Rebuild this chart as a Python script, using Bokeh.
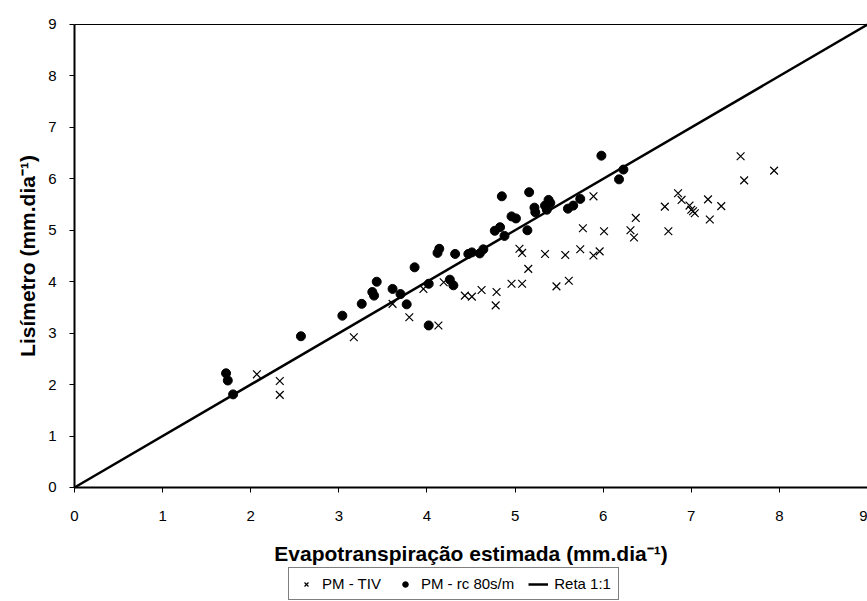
from bokeh.plotting import figure
from bokeh.models import FixedTicker, Legend, LegendItem, Range1d, LinearAxis
from bokeh.embed import file_html
from bokeh.resources import INLINE

# PM - TIV (crosses)
tiv_x = [2.07, 2.33, 2.33, 3.17, 3.61, 3.80, 3.96, 4.13, 4.19, 4.43, 4.51, 4.62, 4.79, 4.78,
         4.96, 5.08, 5.05, 5.08, 5.15, 5.34, 5.47, 5.61, 5.57, 5.74, 5.89, 5.96, 5.77, 5.89,
         6.01, 6.31, 6.35, 6.37, 6.70, 6.74, 6.85, 6.89, 6.98, 7.00, 7.02, 7.04, 7.19, 7.21,
         7.34, 7.56, 7.60, 7.94]
tiv_y = [2.20, 2.07, 1.80, 2.92, 3.57, 3.31, 3.86, 3.15, 3.99, 3.73, 3.71, 3.84, 3.80, 3.54,
         3.96, 3.96, 4.64, 4.56, 4.25, 4.54, 3.91, 4.02, 4.52, 4.63, 4.51, 4.59, 5.04, 5.66,
         4.98, 5.00, 4.86, 5.24, 5.46, 4.98, 5.72, 5.59, 5.48, 5.40, 5.37, 5.33, 5.60, 5.21,
         5.47, 6.44, 5.97, 6.16]

# PM - rc 80s/m (dots)
rc_x = [1.72, 1.74, 1.80, 2.57, 3.04, 3.26, 3.38, 3.40, 3.43, 3.61, 3.70, 3.77, 3.86, 4.02,
        4.02, 4.12, 4.14, 4.26, 4.30, 4.32, 4.47, 4.51, 4.60, 4.64, 4.77, 4.83, 4.88, 4.85,
        4.96, 5.01, 5.14, 5.16, 5.22, 5.23, 5.34, 5.36, 5.38, 5.40, 5.60, 5.66, 5.74, 5.98,
        6.18, 6.23]
rc_y = [2.22, 2.08, 1.81, 2.94, 3.34, 3.57, 3.80, 3.73, 4.00, 3.86, 3.76, 3.56, 4.28, 3.96,
        3.15, 4.56, 4.64, 4.04, 3.93, 4.54, 4.54, 4.57, 4.55, 4.63, 4.99, 5.06, 4.89, 5.66,
        5.27, 5.23, 5.00, 5.74, 5.44, 5.35, 5.48, 5.40, 5.59, 5.53, 5.42, 5.48, 5.61, 6.45,
        5.99, 6.18]

# Reta 1:1
reta_x = [0, 9]
reta_y = [0, 9]

ticks = [0, 1, 2, 3, 4, 5, 6, 7, 8, 9]

FONT = "Liberation Sans"

# the frame fills the whole canvas; axes sit at x=0 / y=0 so titles and legend fit inside
p = figure(frame_width=867, frame_height=601, output_backend="svg", toolbar_location=None,
           x_range=Range1d(-0.8398, 9), y_range=Range1d(-2.216, 9.4665),
           min_border_left=0, min_border_right=0, min_border_top=0, min_border_bottom=0)
p.background_fill_color = "white"
p.border_fill_color = "white"
p.outline_line_color = None
p.xgrid.visible = False
p.ygrid.visible = False

for ax in (p.xaxis[0], p.yaxis[0]):
    ax.ticker = FixedTicker(ticks=ticks)
    ax.bounds = (0, 9)
    ax.fixed_location = 0
    ax.axis_line_color = "black"
    ax.axis_line_width = 2
    ax.major_tick_line_color = "black"
    ax.major_tick_line_width = 1
    ax.major_tick_in = 0
    ax.major_tick_out = 5
    ax.minor_tick_line_color = None
    ax.major_label_text_font = FONT
    ax.major_label_text_font_size = "15px"
    ax.major_label_text_color = "black"
    ax.axis_label_text_font = FONT
    ax.axis_label_text_font_size = "21px"
    ax.axis_label_text_font_style = "bold"
    ax.axis_label_text_color = "black"

p.xaxis[0].axis_label = "Evapotranspiração estimada (mm.dia⁻¹)"
p.yaxis[0].axis_label = "Lisímetro (mm.dia⁻¹)"
p.xaxis[0].major_label_standoff = 19
p.xaxis[0].axis_label_standoff = 17
p.yaxis[0].major_label_standoff = 13
p.yaxis[0].axis_label_standoff = 6

# thin top border of the plot area
top = LinearAxis(ticker=FixedTicker(ticks=[]), bounds=(0, 9), fixed_location=9,
                 axis_line_color="black", axis_line_width=1, major_tick_line_color=None,
                 minor_tick_line_color=None, major_label_text_font_size="0px")
p.add_layout(top, "above")

r_line = p.line(reta_x, reta_y, line_color="black", line_width=2.5)
r_tiv = p.scatter(tiv_x, tiv_y, marker="x", size=11, line_color="black", line_width=1.2)
r_rc = p.scatter(rc_x, rc_y, marker="circle", size=9, fill_color="black", line_color="black")

legend = Legend(items=[
    LegendItem(label="PM - TIV", renderers=[r_tiv]),
    LegendItem(label="PM - rc 80s/m", renderers=[r_rc]),
    LegendItem(label="Reta 1:1", renderers=[r_line]),
], orientation="horizontal", location=(288, 1))
legend.label_text_font = FONT
legend.label_text_font_size = "15px"
legend.label_text_color = "black"
legend.border_line_color = "black"
legend.border_line_width = 1
legend.background_fill_color = "white"
legend.glyph_width = 20
legend.glyph_height = 14
legend.label_standoff = 6
legend.spacing = 14
legend.padding = 7
legend.margin = 0
legend.label_height = 16
p.add_layout(legend, "center")

open("out.html", "w").write(file_html(p, INLINE))
